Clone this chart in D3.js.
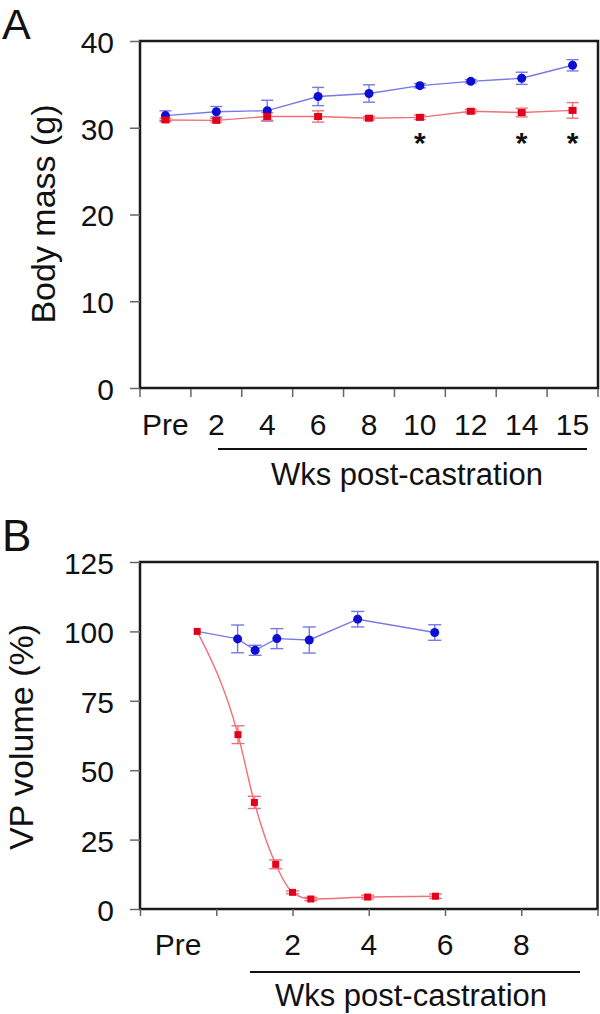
<!DOCTYPE html>
<html><head><meta charset="utf-8">
<script src="https://cdn.jsdelivr.net/npm/d3@7"></script>
<style>body{margin:0;background:#fff}svg{display:block}text{font-family:"Liberation Sans",Arial,sans-serif;fill:#111}</style>
</head><body><svg id="c" width="600" height="1014"></svg>
<script>
// Panel A data
const catsA = ["Pre","2","4","6","8","10","12","14","15"];
const blueA = [31.4, 31.85, 31.97, 33.6, 33.95, 34.85, 35.35, 35.7, 37.2];
const blueErrA = [0.55, 0.6, 1.2, 1.05, 1.0, 0.25, 0.2, 0.7, 0.65];
const redA = [30.9, 30.85, 31.3, 31.3, 31.1, 31.2, 31.9, 31.75, 32.0];
const redErrA = [0.2, 0.2, 0.45, 0.65, 0.2, 0.25, 0.2, 0.5, 0.9];
const sigA = ["10","14","15"];
const yTicksA = [0, 10, 20, 30, 40];
// Panel B data (weeks; Pre = -0.5)
const weeksRedB = [-0.5, 0.57, 1.0, 1.56, 2.0, 2.48, 3.97, 5.75];
const redB = [100, 62.8, 38.4, 16.1, 6.0, 3.6, 4.3, 4.6];
const redErrB = [0.5, 3.2, 2.2, 1.6, 0.5, 0.6, 0.7, 0.8];
const weeksBlueB = [-0.5, 0.56, 1.02, 1.59, 2.44, 3.71, 5.73];
const blueB = [100, 97.3, 93.2, 97.4, 96.9, 104.4, 99.6];
const blueErrB = [0, 5.0, 1.8, 3.6, 4.7, 2.8, 2.8];
const xTicksB = [-2, 0, 2, 4, 6, 8, 10];
const xLabelsB = [{v:-1,t:"Pre"},{v:2,t:"2"},{v:4,t:"4"},{v:6,t:"6"},{v:8,t:"8"}];
const yTicksB = [0, 25, 50, 75, 100, 125];

const BLUE = "#0d0dd4", BLUE_L = "#7878e6", RED = "#e2001a", RED_L = "#f07078";
const svg = d3.select("#c");
svg.append("rect").attr("width",600).attr("height",1014).attr("fill","#fff");

function frame(x0,x1,y0,y1){
  svg.append("rect").attr("x",x0).attr("y",y0).attr("width",x1-x0).attr("height",y1-y0)
    .attr("fill","none").attr("stroke","#1a1a1a").attr("stroke-width",2.5);
}
function yAxis(y, ticks, x0){
  const g = svg.append("g").attr("transform",`translate(${x0},0)`)
    .call(d3.axisLeft(y).tickValues(ticks).tickSize(10).tickPadding(16));
  g.select(".domain").remove();
  g.selectAll(".tick line").attr("stroke","#666").attr("stroke-width",1.5);
  g.selectAll(".tick text").attr("font-size",30).attr("fill","#111").attr("dy","0.38em")
    .style("font-family","'Liberation Sans',Arial,sans-serif");
}
function errorBars(data, xf, yf, color, cap){
  const g = svg.append("g").attr("stroke",color).attr("stroke-width",1.4).attr("fill","none");
  data.forEach(d=>{
    if(d.e<=0) return;
    const x=xf(d), yt=yf(d.v+d.e), yb=yf(d.v-d.e);
    g.append("line").attr("x1",x).attr("x2",x).attr("y1",yt).attr("y2",yb);
    g.append("line").attr("x1",x-cap/2).attr("x2",x+cap/2).attr("y1",yt).attr("y2",yt);
    g.append("line").attr("x1",x-cap/2).attr("x2",x+cap/2).attr("y1",yb).attr("y2",yb);
  });
}

// ---------- Panel A ----------
const xA = d3.scaleBand().domain(catsA).range([140,598]);
const yA = d3.scaleLinear().domain([0,40]).range([388,41]);
const cx = c => xA(c)+xA.bandwidth()/2;
frame(140,598,41,388);
yAxis(yA, yTicksA, 140);
const edgesA = catsA.map(c=>xA(c)).concat([598]);
svg.append("g").selectAll("line").data(edgesA).join("line")
  .attr("x1",d=>d).attr("x2",d=>d).attr("y1",389).attr("y2",397).attr("stroke","#666").attr("stroke-width",1.5);
svg.append("g").selectAll("text").data(catsA).join("text")
  .attr("x",d=>cx(d)).attr("y",435).attr("text-anchor","middle").attr("font-size",30).text(d=>d);
svg.append("line").attr("x1",218).attr("x2",587).attr("y1",449).attr("y2",449).attr("stroke","#111").attr("stroke-width",2);
svg.append("text").attr("x",407).attr("y",485).attr("text-anchor","middle").attr("font-size",31).text("Wks post-castration");
svg.append("text").attr("transform","translate(55,214) rotate(-90)").attr("text-anchor","middle").attr("font-size",34).text("Body mass (g)");
svg.append("text").attr("x",2).attr("y",39).attr("font-size",43).text("A");

const dBlueA = catsA.map((c,i)=>({c, v:blueA[i], e:blueErrA[i]}));
const dRedA = catsA.map((c,i)=>({c, v:redA[i], e:redErrA[i]}));
errorBars(dBlueA, d=>cx(d.c), yA, BLUE_L, 12);
svg.append("path").datum(dBlueA).attr("fill","none").attr("stroke",BLUE_L).attr("stroke-width",1.4)
  .attr("d", d3.line().x(d=>cx(d.c)).y(d=>yA(d.v)));
errorBars(dRedA, d=>cx(d.c), yA, RED_L, 12);
svg.append("path").datum(dRedA).attr("fill","none").attr("stroke",RED_L).attr("stroke-width",1.4)
  .attr("d", d3.line().x(d=>cx(d.c)).y(d=>yA(d.v)));
svg.append("g").selectAll("circle").data(dBlueA).join("circle")
  .attr("cx",d=>cx(d.c)).attr("cy",d=>yA(d.v)).attr("r",4.5).attr("fill",BLUE);
svg.append("g").selectAll("rect").data(dRedA).join("rect")
  .attr("x",d=>cx(d.c)-4).attr("y",d=>yA(d.v)-3.5).attr("width",8).attr("height",7).attr("fill",RED);
svg.append("g").selectAll("text").data(sigA).join("text")
  .attr("x",d=>cx(d)).attr("y",153).attr("text-anchor","middle").attr("font-size",30).attr("font-weight","bold").text("*");

// ---------- Panel B ----------
const xB = d3.scaleLinear().domain([-2,10]).range([140,597.5]);
const yB = d3.scaleLinear().domain([0,125]).range([909,562]);
frame(140,597.5,562,909);
yAxis(yB, yTicksB, 140);
svg.append("g").attr("transform","translate(0,909)")
  .call(d3.axisBottom(xB).tickValues(xTicksB).tickSize(7).tickFormat(""))
  .call(g=>{g.select(".domain").remove(); g.selectAll(".tick line").attr("stroke","#666").attr("stroke-width",1.5);});
svg.append("g").selectAll("text").data(xLabelsB).join("text")
  .attr("x",d=>xB(d.v)).attr("y",955).attr("text-anchor","middle").attr("font-size",30).text(d=>d.t);
svg.append("line").attr("x1",250).attr("x2",580).attr("y1",972).attr("y2",972).attr("stroke","#111").attr("stroke-width",2);
svg.append("text").attr("x",411).attr("y",1006).attr("text-anchor","middle").attr("font-size",31).text("Wks post-castration");
svg.append("text").attr("transform","translate(33,737) rotate(-90)").attr("text-anchor","middle").attr("font-size",34).text("VP volume (%)");
svg.append("text").attr("x",2).attr("y",551).attr("font-size",44).text("B");

const dBlueB = weeksBlueB.map((w,i)=>({w, v:blueB[i], e:blueErrB[i]}));
const dRedB = weeksRedB.map((w,i)=>({w, v:redB[i], e:redErrB[i]}));
errorBars(dBlueB, d=>xB(d.w), yB, BLUE_L, 13);
svg.append("path").datum(dBlueB).attr("fill","none").attr("stroke",BLUE_L).attr("stroke-width",1.4)
  .attr("d", d3.line().x(d=>xB(d.w)).y(d=>yB(d.v)));
svg.append("g").selectAll("circle").data(dBlueB.slice(1)).join("circle")
  .attr("cx",d=>xB(d.w)).attr("cy",d=>yB(d.v)).attr("r",4.5).attr("fill",BLUE);
errorBars(dRedB.slice(1), d=>xB(d.w), yB, RED_L, 13);
svg.append("path").datum(dRedB).attr("fill","none").attr("stroke",RED_L).attr("stroke-width",1.4)
  .attr("d", d3.line().curve(d3.curveMonotoneX).x(d=>xB(d.w)).y(d=>yB(d.v)));
svg.append("g").selectAll("rect").data(dRedB).join("rect")
  .attr("x",d=>xB(d.w)-3.5).attr("y",d=>yB(d.v)-3.5).attr("width",7).attr("height",7).attr("fill",RED);
</script></body></html>
